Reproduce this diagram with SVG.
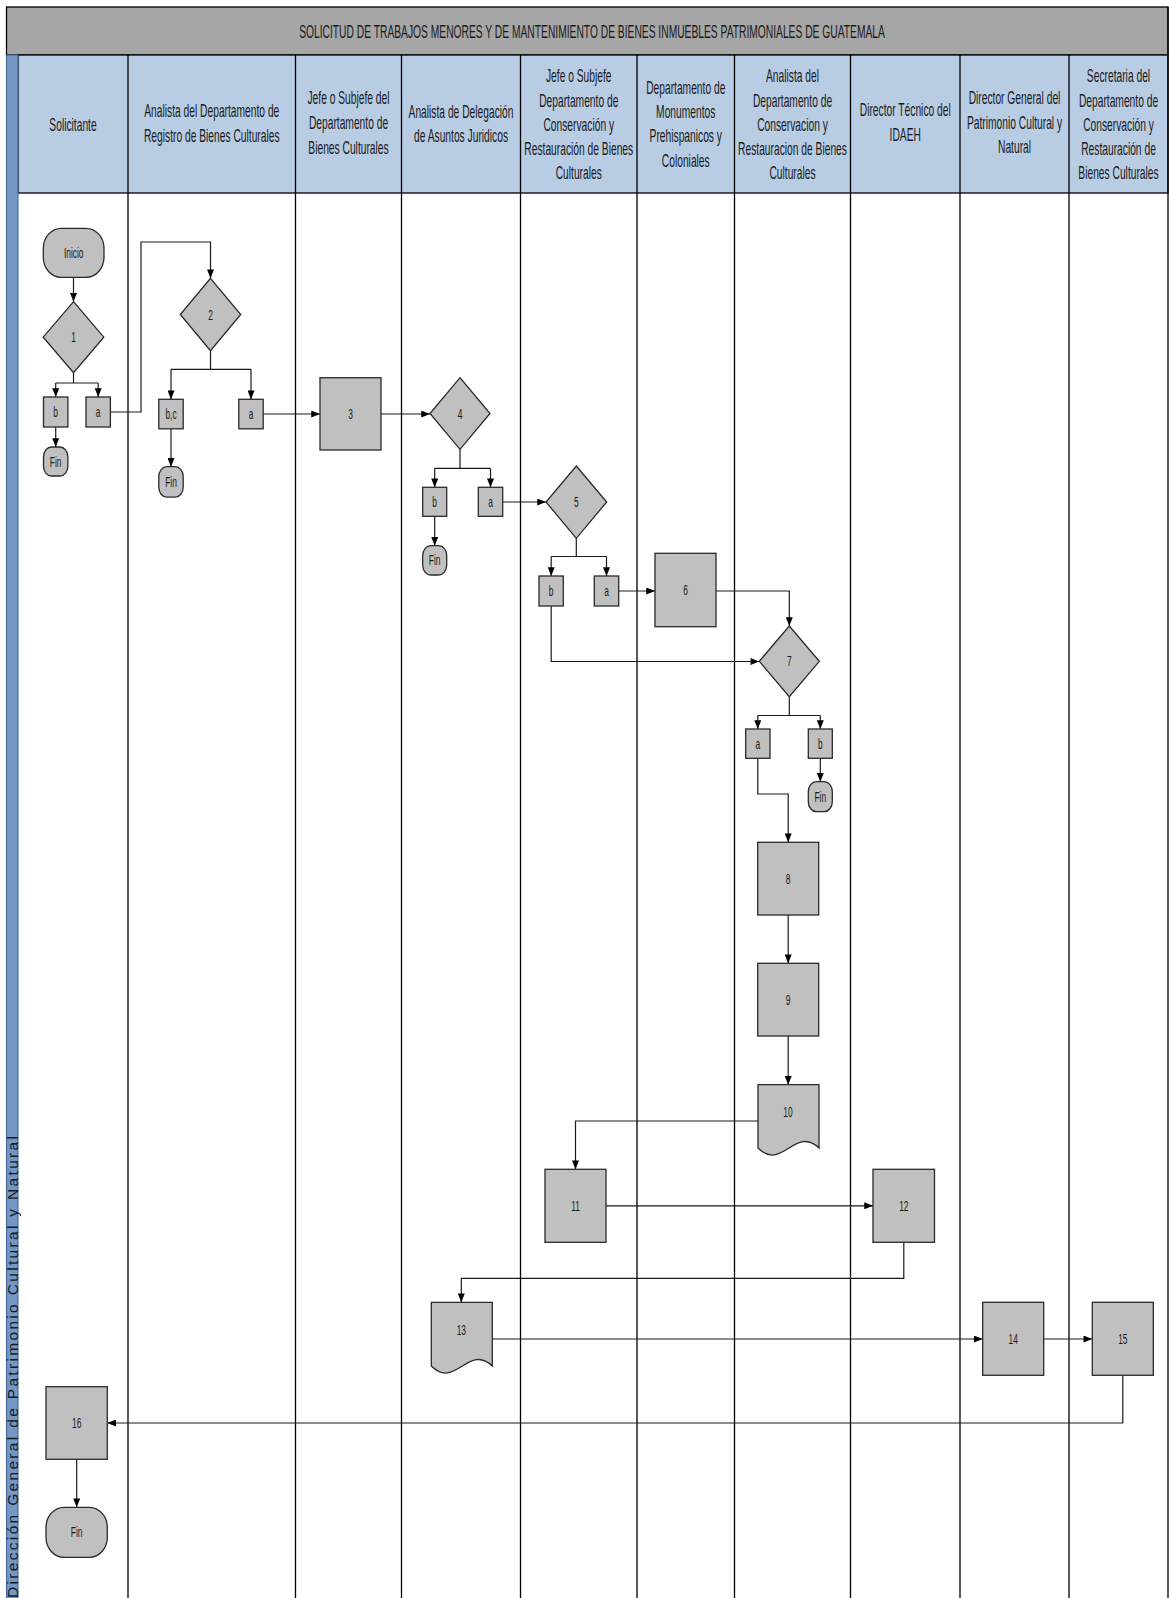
<svg xmlns="http://www.w3.org/2000/svg" width="1169" height="1598" viewBox="0 0 1169 1598">
<defs>
<style>
.lane{stroke:#000;stroke-width:1.3}
.node{fill:#C0C0C0;stroke:#2a2a2a;stroke-width:1.3}
.lbl{font-family:"Liberation Sans",Arial,sans-serif;font-size:14px;fill:#1a1a1a;text-anchor:middle}
.hdr{font-family:"Liberation Sans",Arial,sans-serif;font-size:18px;fill:#1a1a1a;text-anchor:middle}
.conn{fill:none;stroke:#1a1a1a;stroke-width:1.2}
.arr{marker-end:url(#ah)}
</style>
<marker id="ah" viewBox="0 0 10 8" refX="10" refY="4" markerWidth="9" markerHeight="7" markerUnits="userSpaceOnUse" orient="auto"><path d="M0,0 L10,4 L0,8 z" fill="#000"/></marker>
</defs>
<rect width="1169" height="1598" fill="#fff"/>
<g id="frame">
<rect x="6.5" y="7" width="1161.5" height="48" fill="#A6A6A6" stroke="#000" stroke-width="1.3"/>
<g transform="translate(592,0) scale(0.571,1)"><text class="hdr" x="0" y="38">SOLICITUD DE TRABAJOS MENORES Y DE MANTENIMIENTO DE BIENES INMUEBLES PATRIMONIALES DE GUATEMALA</text></g>
<rect x="18" y="55" width="1150" height="138" fill="#B8CCE4" stroke="#000" stroke-width="1.3"/>
<rect x="6.5" y="55" width="11.5" height="1545" fill="#7397C6" stroke="#3d5e8f" stroke-width="1"/>
<text x="0" y="0" transform="translate(17.5,1598) rotate(-90)" font-family="'Liberation Sans',Arial,sans-serif" font-size="15.5" fill="#1a1a1a" textLength="462" lengthAdjust="spacing">Dirección General de Patrimonio Cultural y Natural</text>
<line class="lane" x1="1168" y1="7" x2="1168" y2="1598"/>
<line class="lane" x1="128" y1="55" x2="128" y2="1598"/>
<line class="lane" x1="295.5" y1="55" x2="295.5" y2="1598"/>
<line class="lane" x1="401.5" y1="55" x2="401.5" y2="1598"/>
<line class="lane" x1="520.5" y1="55" x2="520.5" y2="1598"/>
<line class="lane" x1="637" y1="55" x2="637" y2="1598"/>
<line class="lane" x1="734.5" y1="55" x2="734.5" y2="1598"/>
<line class="lane" x1="850.5" y1="55" x2="850.5" y2="1598"/>
<line class="lane" x1="960" y1="55" x2="960" y2="1598"/>
<line class="lane" x1="1069" y1="55" x2="1069" y2="1598"/>
</g>
<g id="headers">
<g transform="translate(73,0) scale(0.57,1)"><text class="hdr" x="0" y="131">Solicitante</text></g>
<g transform="translate(211.75,0) scale(0.57,1)"><text class="hdr" x="0" y="117.5">Analista del Departamento de</text><text class="hdr" x="0" y="142.5">Registro de Bienes Culturales</text></g>
<g transform="translate(348.5,0) scale(0.57,1)"><text class="hdr" x="0" y="104">Jefe o Subjefe del</text><text class="hdr" x="0" y="129">Departamento de</text><text class="hdr" x="0" y="154">Bienes Culturales</text></g>
<g transform="translate(461,0) scale(0.57,1)"><text class="hdr" x="0" y="118.5">Analista de Delegación</text><text class="hdr" x="0" y="142.5">de Asuntos Juridicos</text></g>
<g transform="translate(578.75,0) scale(0.57,1)"><text class="hdr" x="0" y="82.4">Jefe o Subjefe</text><text class="hdr" x="0" y="106.6">Departamento de</text><text class="hdr" x="0" y="130.9">Conservación y</text><text class="hdr" x="0" y="155.2">Restauración de Bienes</text><text class="hdr" x="0" y="179.4">Culturales</text></g>
<g transform="translate(685.75,0) scale(0.57,1)"><text class="hdr" x="0" y="93.9">Departamento de</text><text class="hdr" x="0" y="118.2">Monumentos</text><text class="hdr" x="0" y="142.5">Prehispanicos y</text><text class="hdr" x="0" y="166.8">Coloniales</text></g>
<g transform="translate(792.5,0) scale(0.57,1)"><text class="hdr" x="0" y="82.4">Analista del</text><text class="hdr" x="0" y="106.6">Departamento de</text><text class="hdr" x="0" y="130.9">Conservacion y</text><text class="hdr" x="0" y="155.2">Restauracion de Bienes</text><text class="hdr" x="0" y="179.4">Culturales</text></g>
<g transform="translate(905.25,0) scale(0.57,1)"><text class="hdr" x="0" y="116.5">Director Técnico del</text><text class="hdr" x="0" y="141">IDAEH</text></g>
<g transform="translate(1014.5,0) scale(0.57,1)"><text class="hdr" x="0" y="104.5">Director General del</text><text class="hdr" x="0" y="129">Patrimonio Cultural y</text><text class="hdr" x="0" y="153.5">Natural</text></g>
<g transform="translate(1118.5,0) scale(0.57,1)"><text class="hdr" x="0" y="82.4">Secretaria del</text><text class="hdr" x="0" y="106.6">Departamento de</text><text class="hdr" x="0" y="130.9">Conservación y</text><text class="hdr" x="0" y="155.2">Restauración de</text><text class="hdr" x="0" y="179.4">Bienes Culturales</text></g>
</g>
<g id="connectors">
<path class="conn arr" d="M73.5,277 V301.7"/>
<path class="conn" d="M73.5,372.7 V383 M55.7,383 H98.2"/>
<path class="conn arr" d="M55.7,383 V397"/>
<path class="conn arr" d="M98.2,383 V397"/>
<path class="conn arr" d="M55.7,427 V447"/>
<path class="conn arr" d="M110.5,412 H141 V242 H210.5 V278.3"/>
<path class="conn" d="M210.5,350.7 V369.3 M171,369.3 H251"/>
<path class="conn arr" d="M171,369.3 V399.3"/>
<path class="conn arr" d="M251,369.3 V399.3"/>
<path class="conn arr" d="M171,428.8 V466.7"/>
<path class="conn arr" d="M263.2,414 H320"/>
<path class="conn arr" d="M381,414 H430"/>
<path class="conn" d="M460,449.3 V468.3 M434.7,468.3 H490.5"/>
<path class="conn arr" d="M434.7,468.3 V487.3"/>
<path class="conn arr" d="M490.5,468.3 V487.3"/>
<path class="conn arr" d="M434.7,516.3 V545.7"/>
<path class="conn arr" d="M502.7,502 H546"/>
<path class="conn" d="M576.3,538.3 V556.5 M551.2,556.5 H606.5"/>
<path class="conn arr" d="M551.2,556.5 V576"/>
<path class="conn arr" d="M606.5,556.5 V576"/>
<path class="conn arr" d="M618.7,591 H655"/>
<path class="conn arr" d="M716,591 H789.3 V626"/>
<path class="conn arr" d="M551.2,606 V661.5 H759.3"/>
<path class="conn" d="M789.3,696.7 V715.5 M757.8,715.5 H820.3"/>
<path class="conn arr" d="M757.8,715.5 V729"/>
<path class="conn arr" d="M820.3,715.5 V729"/>
<path class="conn arr" d="M820.3,758.3 V781.7"/>
<path class="conn arr" d="M757.8,758.3 V794 H788.2 V842.3"/>
<path class="conn arr" d="M788.2,915 V963.3"/>
<path class="conn arr" d="M788.2,1036 V1084.7"/>
<path class="conn arr" d="M758,1121 H575.5 V1169.3"/>
<path class="conn arr" d="M606,1205.8 H873"/>
<path class="conn arr" d="M903.8,1242.3 V1278.3 H461.3 V1302.3"/>
<path class="conn arr" d="M492.3,1339 H982.7"/>
<path class="conn arr" d="M1043.7,1339 H1092.3"/>
<path class="conn arr" d="M1122.8,1375.3 V1423 H107.3"/>
<path class="conn arr" d="M76.7,1459.3 V1507.3"/>
</g>
<g id="n-inicio"><rect class="node" x="43.3" y="228.3" width="60.7" height="49" rx="18" ry="20"/><text class="lbl" transform="translate(73.7,258) scale(0.6,1)">Inicio</text></g>
<g id="n-1"><path class="node" d="M73.5,301.7 L103.8,337.2 L73.5,372.7 L43.2,337.2 Z"/><text class="lbl" transform="translate(73.5,342) scale(0.6,1)">1</text></g>
<g id="n-1b"><rect class="node" x="43.5" y="397" width="24.4" height="30"/><text class="lbl" transform="translate(55.7,417) scale(0.6,1)">b</text></g>
<g id="n-1a"><rect class="node" x="86" y="397" width="24.4" height="30"/><text class="lbl" transform="translate(98.2,417) scale(0.6,1)">a</text></g>
<g id="n-fin1"><rect class="node" x="43.5" y="447" width="24.4" height="29" rx="8" ry="10"/><text class="lbl" transform="translate(55.7,466.5) scale(0.6,1)">Fin</text></g>
<g id="n-2"><path class="node" d="M210.5,278.3 L240.7,314.5 L210.5,350.7 L180.3,314.5 Z"/><text class="lbl" transform="translate(210.5,319.5) scale(0.6,1)">2</text></g>
<g id="n-2bc"><rect class="node" x="158.8" y="399.3" width="24.4" height="29.5"/><text class="lbl" transform="translate(171,419) scale(0.6,1)">b,c</text></g>
<g id="n-2a"><rect class="node" x="238.8" y="399.3" width="24.4" height="29.5"/><text class="lbl" transform="translate(251,419) scale(0.6,1)">a</text></g>
<g id="n-fin2"><rect class="node" x="158.8" y="466.7" width="24.4" height="30.5" rx="8" ry="10"/><text class="lbl" transform="translate(171,487) scale(0.6,1)">Fin</text></g>
<g id="n-3"><rect class="node" x="320" y="377.7" width="61" height="72.3"/><text class="lbl" transform="translate(350.5,419) scale(0.6,1)">3</text></g>
<g id="n-4"><path class="node" d="M460,377.7 L490,413.5 L460,449.3 L430,413.5 Z"/><text class="lbl" transform="translate(460,418.5) scale(0.6,1)">4</text></g>
<g id="n-4b"><rect class="node" x="422.7" y="487.3" width="24" height="29"/><text class="lbl" transform="translate(434.7,507) scale(0.6,1)">b</text></g>
<g id="n-4a"><rect class="node" x="478.3" y="487.3" width="24.4" height="29"/><text class="lbl" transform="translate(490.5,507) scale(0.6,1)">a</text></g>
<g id="n-fin4"><rect class="node" x="422.7" y="545.7" width="24" height="29.3" rx="8" ry="10"/><text class="lbl" transform="translate(434.7,565.3) scale(0.6,1)">Fin</text></g>
<g id="n-5"><path class="node" d="M576.3,466 L606.7,502 L576.3,538.3 L546,502 Z"/><text class="lbl" transform="translate(576.3,507) scale(0.6,1)">5</text></g>
<g id="n-5b"><rect class="node" x="539" y="576" width="24.3" height="30"/><text class="lbl" transform="translate(551.2,596) scale(0.6,1)">b</text></g>
<g id="n-5a"><rect class="node" x="594.3" y="576" width="24.4" height="30"/><text class="lbl" transform="translate(606.5,596) scale(0.6,1)">a</text></g>
<g id="n-6"><rect class="node" x="655" y="553.3" width="61" height="73.4"/><text class="lbl" transform="translate(685.5,595) scale(0.6,1)">6</text></g>
<g id="n-7"><path class="node" d="M789.3,626 L819.3,661.3 L789.3,696.7 L759.3,661.3 Z"/><text class="lbl" transform="translate(789.3,666.3) scale(0.6,1)">7</text></g>
<g id="n-7a"><rect class="node" x="745.7" y="729" width="24.3" height="29.3"/><text class="lbl" transform="translate(757.8,748.6) scale(0.6,1)">a</text></g>
<g id="n-7b"><rect class="node" x="808.3" y="729" width="24" height="29.3"/><text class="lbl" transform="translate(820.3,748.6) scale(0.6,1)">b</text></g>
<g id="n-fin7"><rect class="node" x="808.3" y="781.7" width="24" height="30" rx="8" ry="10"/><text class="lbl" transform="translate(820.3,801.7) scale(0.6,1)">Fin</text></g>
<g id="n-8"><rect class="node" x="757.7" y="842.3" width="61" height="72.7"/><text class="lbl" transform="translate(788.2,883.6) scale(0.6,1)">8</text></g>
<g id="n-9"><rect class="node" x="757.7" y="963.3" width="61" height="72.7"/><text class="lbl" transform="translate(788.2,1004.6) scale(0.6,1)">9</text></g>
<g id="n-10"><path class="node" d="M758,1084.7 H819 V1148 C795,1125 782,1172 758,1148 Z"/><text class="lbl" transform="translate(788,1116.7) scale(0.6,1)">10</text></g>
<g id="n-11"><rect class="node" x="545" y="1169.3" width="61" height="73"/><text class="lbl" transform="translate(575.5,1210.8) scale(0.6,1)">11</text></g>
<g id="n-12"><rect class="node" x="873" y="1169.3" width="61.5" height="73"/><text class="lbl" transform="translate(903.8,1210.8) scale(0.6,1)">12</text></g>
<g id="n-13"><path class="node" d="M431.3,1302.3 H492.3 V1366 C468.3,1343 455.3,1390 431.3,1366 Z"/><text class="lbl" transform="translate(461.3,1335) scale(0.6,1)">13</text></g>
<g id="n-14"><rect class="node" x="982.7" y="1302.3" width="61" height="73"/><text class="lbl" transform="translate(1013.2,1343.8) scale(0.6,1)">14</text></g>
<g id="n-15"><rect class="node" x="1092.3" y="1302.3" width="61" height="73"/><text class="lbl" transform="translate(1122.8,1343.8) scale(0.6,1)">15</text></g>
<g id="n-16"><rect class="node" x="46" y="1386.7" width="61.3" height="72.6"/><text class="lbl" transform="translate(76.7,1428) scale(0.6,1)">16</text></g>
<g id="n-fin16"><rect class="node" x="46" y="1507.3" width="61.3" height="50" rx="18" ry="20"/><text class="lbl" transform="translate(76.7,1537.3) scale(0.6,1)">Fin</text></g>
</svg>
